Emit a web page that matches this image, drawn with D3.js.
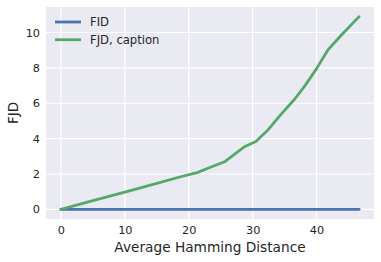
<!DOCTYPE html>
<html><head><meta charset="utf-8">
<script src="https://cdn.jsdelivr.net/npm/d3@7"></script>
<style>body{margin:0;background:#fff}svg{display:block}text{font-family:"DejaVu Sans",sans-serif;fill:#262626}</style>
</head><body><svg id="c" width="381" height="262"></svg>
<script>
const seriesNames = ["FID", "FJD, caption"];
const hamming = [0, 5, 10, 15, 18.6, 21.3, 23.5, 25.7, 28.8, 30.5, 32.4, 34.5, 36.5, 38.2, 40, 41.8, 44, 46.66];
const fidValues = [0, 0, 0, 0, 0, 0, 0, 0, 0, 0, 0, 0, 0, 0, 0, 0, 0, 0];
const fjdValues = [0, 0.49, 0.98, 1.47, 1.83, 2.08, 2.4, 2.71, 3.56, 3.84, 4.49, 5.4, 6.2, 7.0, 7.96, 9.03, 9.9, 10.9];
const xTicks = [0, 10, 20, 30, 40];
const yTicks = [0, 2, 4, 6, 8, 10];
const colors = ["#4C72B0", "#55A868"];

const svg = d3.select("#c");
const L = 46, R = 374, T = 7, B = 219;
const x = d3.scaleLinear().domain([-2.333, 48.99]).range([L, R]);
const y = d3.scaleLinear().domain([-0.545, 11.445]).range([B, T]);

svg.append("rect").attr("x", L).attr("y", T).attr("width", R - L).attr("height", B - T).attr("fill", "#EAEAF2");
const g = svg.append("g");
g.selectAll(".gx").data(xTicks).enter().append("line")
  .attr("x1", d => x(d)).attr("x2", d => x(d)).attr("y1", T).attr("y2", B)
  .attr("stroke", "#fff").attr("stroke-width", 1.1);
g.selectAll(".gy").data(yTicks).enter().append("line")
  .attr("y1", d => y(d)).attr("y2", d => y(d)).attr("x1", L).attr("x2", R)
  .attr("stroke", "#fff").attr("stroke-width", 1.1);

const xAxis = svg.append("g").attr("transform", `translate(0,${B})`)
  .call(d3.axisBottom(x).tickValues(xTicks).tickSize(0).tickPadding(7));
xAxis.select(".domain").remove();
xAxis.selectAll("text").attr("font-size", 11.3).style("fill", "#262626").attr("font-family", "DejaVu Sans");
const yAxis = svg.append("g").attr("transform", `translate(${L},0)`)
  .call(d3.axisLeft(y).tickValues(yTicks).tickSize(0).tickPadding(6));
yAxis.select(".domain").remove();
yAxis.selectAll("text").attr("font-size", 11.3).style("fill", "#262626").attr("font-family", "DejaVu Sans");

const line = d3.line().x(d => x(d[0])).y(d => y(d[1]));
const series = [fidValues, fjdValues];
series.forEach((vals, i) => {
  svg.append("path").datum(hamming.map((h, j) => [h, vals[j]]))
    .attr("d", line).attr("fill", "none").attr("stroke", colors[i])
    .attr("stroke-width", 2.8).attr("stroke-linecap", "round").attr("stroke-linejoin", "round");
});

svg.append("text").attr("x", 210).attr("y", 251.5).attr("text-anchor", "middle")
  .attr("font-size", 13.7).text("Average Hamming Distance");
svg.append("text").attr("transform", `translate(18,${(T + B) / 2}) rotate(-90)`).attr("text-anchor", "middle")
  .attr("font-size", 13.5).text("FJD");

const leg = svg.append("g");
seriesNames.forEach((n, i) => {
  const yy = 22 + i * 17.7;
  leg.append("line").attr("x1", 55).attr("x2", 81).attr("y1", yy).attr("y2", yy)
    .attr("stroke", colors[i]).attr("stroke-width", 2.8);
  leg.append("text").attr("x", 90).attr("y", yy + 4).attr("font-size", 11.6).text(n);
});
</script></body></html>
